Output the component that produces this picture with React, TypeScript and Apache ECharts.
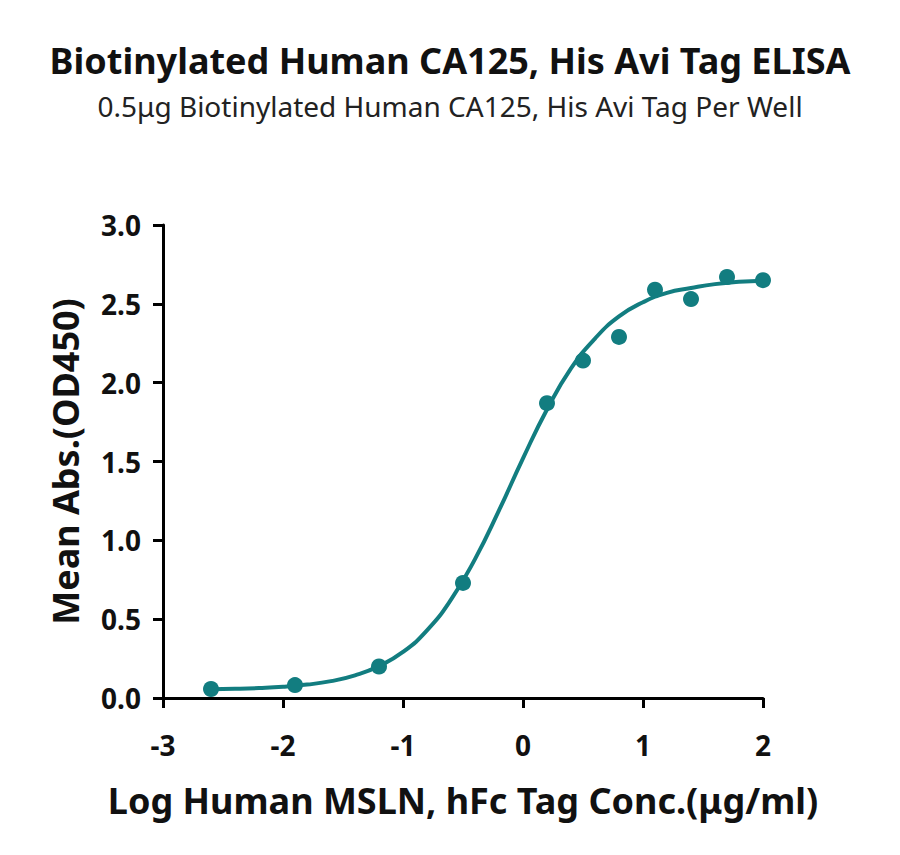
import React, { useEffect, useRef } from 'react'
import * as echarts from 'echarts'

// measured points (log conc, OD450)
const pointX = [-2.6, -1.9, -1.2, -0.5, 0.2, 0.5, 0.8, 1.1, 1.4, 1.7, 2.0]
const pointY = [0.057, 0.082, 0.2, 0.73, 1.87, 2.14, 2.29, 2.59, 2.53, 2.67, 2.65]

// fitted curve
const curveX = [-2.6, -2.4, -2.2, -2.0, -1.8, -1.6, -1.4, -1.2, -1.0, -0.8, -0.6, -0.4, -0.2, 0.0, 0.2, 0.4, 0.6, 0.8, 1.0, 1.2, 1.4, 1.6, 1.8, 2.0]
const curveY = [0.055, 0.058, 0.063, 0.071, 0.085, 0.107, 0.144, 0.202, 0.292, 0.429, 0.624, 0.881, 1.19, 1.52, 1.83, 2.09, 2.28, 2.42, 2.51, 2.57, 2.6, 2.625, 2.64, 2.647]

const xTicks = [-3, -2, -1, 0, 1, 2]
const yTicks = [0, 0.5, 1.0, 1.5, 2.0, 2.5, 3.0]

const TEAL = '#127d80'
const FONT = '"Noto Sans", sans-serif'

const App: React.FC = () => {
  const chartRef = useRef<HTMLDivElement>(null)

  useEffect(() => {
    if (!chartRef.current) return
    const chart = echarts.init(chartRef.current, undefined, { renderer: 'svg' })

    const option = {
      animation: false,
      backgroundColor: '#fff',
      title: {
        text: 'Biotinylated Human CA125, His Avi Tag ELISA',
        subtext: '0.5μg Biotinylated Human CA125, His Avi Tag Per Well',
        left: 'center',
        top: 29,
        itemGap: 14,
        textStyle: { fontFamily: FONT, fontSize: 36, fontWeight: 'bold', color: '#111' },
        subtextStyle: { fontFamily: FONT, fontSize: 28, color: '#222' }
      },
      grid: { left: 155, right: 129, top: 217, bottom: 149 },
      xAxis: {
        type: 'value',
        min: xTicks[0],
        max: xTicks[xTicks.length - 1],
        interval: 1,
        name: 'Log Human MSLN, hFc Tag Conc.(μg/ml)',
        nameLocation: 'middle',
        nameGap: 84,
        nameTextStyle: { fontFamily: FONT, fontSize: 36, fontWeight: 'bold', color: '#111' },
        axisLine: { onZero: false, lineStyle: { color: '#000', width: 3 } },
        axisTick: { length: 10, lineStyle: { color: '#000', width: 3 } },
        axisLabel: {
          margin: 33,
          fontFamily: FONT,
          fontSize: 28,
          fontWeight: 'bold',
          color: '#111',
          formatter: (v: number) => String(v)
        },
        splitLine: { show: false }
      },
      yAxis: {
        type: 'value',
        min: yTicks[0],
        max: yTicks[yTicks.length - 1],
        interval: 0.5,
        name: 'Mean Abs.(OD450)',
        nameLocation: 'middle',
        nameGap: 80,
        nameTextStyle: { fontFamily: FONT, fontSize: 36, fontWeight: 'bold', color: '#111' },
        axisLine: { show: true, onZero: false, lineStyle: { color: '#000', width: 3 } },
        axisTick: { show: true, length: 10, lineStyle: { color: '#000', width: 3 } },
        axisLabel: {
          margin: 22,
          fontFamily: FONT,
          fontSize: 28,
          fontWeight: 'bold',
          color: '#111',
          formatter: (v: number) => v.toFixed(1)
        },
        splitLine: { show: false }
      },
      series: [
        {
          type: 'line',
          data: curveX.map((x, i) => [x, curveY[i]]),
          smooth: true,
          showSymbol: false,
          lineStyle: { color: TEAL, width: 4 },
          z: 2
        },
        {
          type: 'scatter',
          data: pointX.map((x, i) => [x, pointY[i]]),
          symbolSize: 16,
          itemStyle: { color: TEAL, opacity: 1 },
          z: 3
        }
      ]
    }

    chart.setOption(option)
    return () => chart.dispose()
  }, [])

  return <div ref={chartRef} style={{ width: 884, height: 839 }} />
}

export default App
